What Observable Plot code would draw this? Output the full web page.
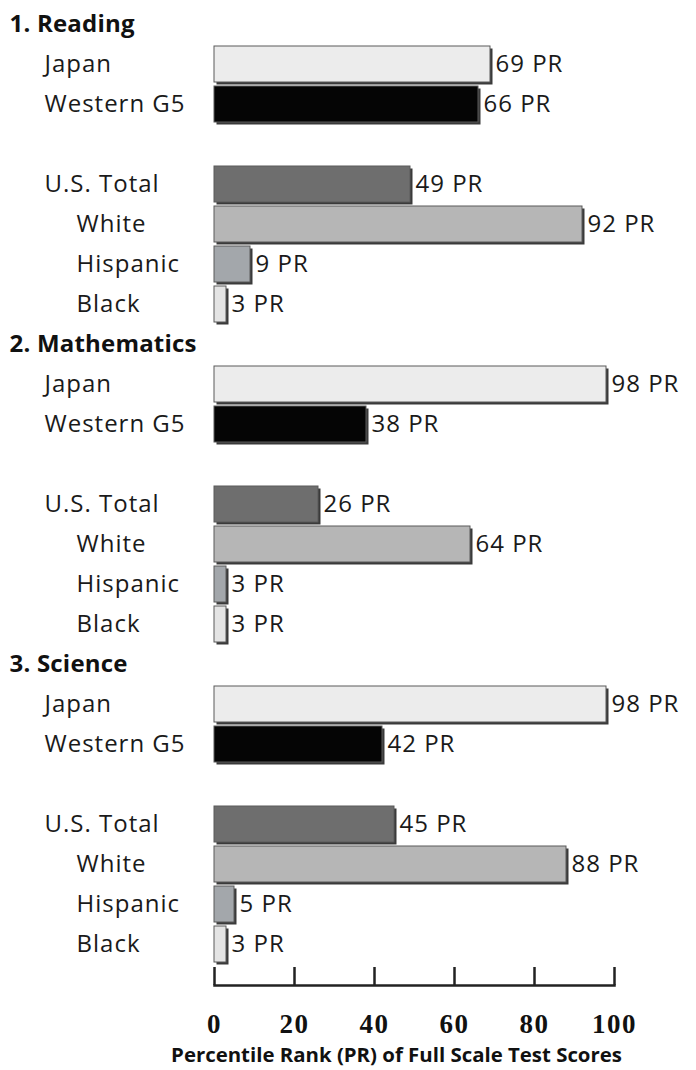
<!DOCTYPE html>
<html>
<head>
<meta charset="utf-8">
<script src="https://cdn.jsdelivr.net/npm/d3@7"></script>
<script src="https://cdn.jsdelivr.net/npm/@observablehq/plot@0.6"></script>
<style>
  html, body { margin: 0; padding: 0; background: #fff; }
  #chart svg { display: block; }
  .lbl text { letter-spacing: 1px; }
  .ticklbl text { letter-spacing: 1.5px; }
  .head text { letter-spacing: 0.2px; }
</style>
</head>
<body>
<div id="chart"></div>
<script>
// ---- data ----
const subjects = ["1. Reading", "2. Mathematics", "3. Science"];
const groups = ["Japan", "Western G5", "U.S. Total", "White", "Hispanic", "Black"];
const indented = ["White", "Hispanic", "Black"];
const readingPR = [69, 66, 49, 92, 9, 3];
const mathPR = [98, 38, 26, 64, 3, 3];
const sciencePR = [98, 42, 45, 88, 5, 3];
const groupColors = ["#ececec", "#050505", "#6e6e6e", "#b6b6b6", "#a3a7ab", "#e4e4e4"];
const xTicks = [0, 20, 40, 60, 80, 100];
const axisLabel = "Percentile Rank (PR) of Full Scale Test Scores";

const values = [readingPR, mathPR, sciencePR];

// slot order: heading, Japan, Western G5, gap, U.S. Total, White, Hispanic, Black
const slots = [];
const headings = [];
const rows = [];
subjects.forEach((s, si) => {
  slots.push(s + "|head");
  headings.push({slot: s + "|head", label: s});
  groups.forEach((g, gi) => {
    if (gi === 2) slots.push(s + "|gap");
    const slot = s + "|" + g;
    slots.push(slot);
    rows.push({slot, subject: s, group: g, value: values[si][gi], color: groupColors[gi], indent: indented.includes(g)});
  });
});

const font = "'Open Sans', sans-serif";

const chart = Plot.plot({
  width: 696,
  height: 1070,
  marginLeft: 214,
  marginRight: 82,
  marginTop: 0,
  marginBottom: 85,
  style: {fontFamily: font, color: "#1a1a1a", background: "#fff"},
  x: {domain: [0, 100], axis: null},
  y: {domain: slots, padding: 0.1, insetBottom: 18, axis: null},
  marks: [
    // shadow for 3D look
    Plot.barX(rows, {x: "value", y: "slot", fill: "#3a3a3a", dx: 2.5, dy: 2.5}),
    Plot.barX(rows, {x: "value", y: "slot", fill: "color", stroke: "#5a5a5a", strokeWidth: 1}),
    // value labels
    Plot.text(rows, {x: "value", y: "slot", text: d => d.value + " PR", textAnchor: "start", dx: 5, fontSize: 24, fill: "#1a1a1a", className: "lbl"}),
    // group labels
    Plot.text(rows.filter(d => !d.indent), {y: "slot", frameAnchor: "left", text: "group", textAnchor: "start", dx: -170, fontSize: 24, fill: "#1a1a1a", className: "lbl"}),
    Plot.text(rows.filter(d => d.indent), {y: "slot", frameAnchor: "left", text: "group", textAnchor: "start", dx: -138, fontSize: 24, fill: "#1a1a1a", className: "lbl"}),
    // headings
    Plot.text(headings, {y: "slot", frameAnchor: "left", text: "label", textAnchor: "start", dx: -205, fontSize: 24, fontWeight: "bold", fill: "#111", className: "head"}),
    // axis line
    Plot.frame({anchor: "bottom", stroke: "#222", strokeWidth: 2.5}),
    // ticks pointing upward
    Plot.axisX({anchor: "bottom", ticks: xTicks, tickSize: 18, dy: -18, tickFormat: () => "", stroke: "#222", strokeWidth: 2.5, label: null}),
    // tick labels
    Plot.axisX({anchor: "bottom", ticks: xTicks, tickSize: 0, tickPadding: 28, fontSize: 27, fontWeight: "bold", fontFamily: "'Liberation Serif', serif", fill: "#111", label: null, className: "ticklbl"}),
    // axis title
    Plot.text([axisLabel], {frameAnchor: "bottom", text: d => d, dx: -18, dy: 76, fontSize: 20.4, fontWeight: "bold", fill: "#111"})
  ]
});

document.getElementById("chart").append(chart);
</script>
</body>
</html>
